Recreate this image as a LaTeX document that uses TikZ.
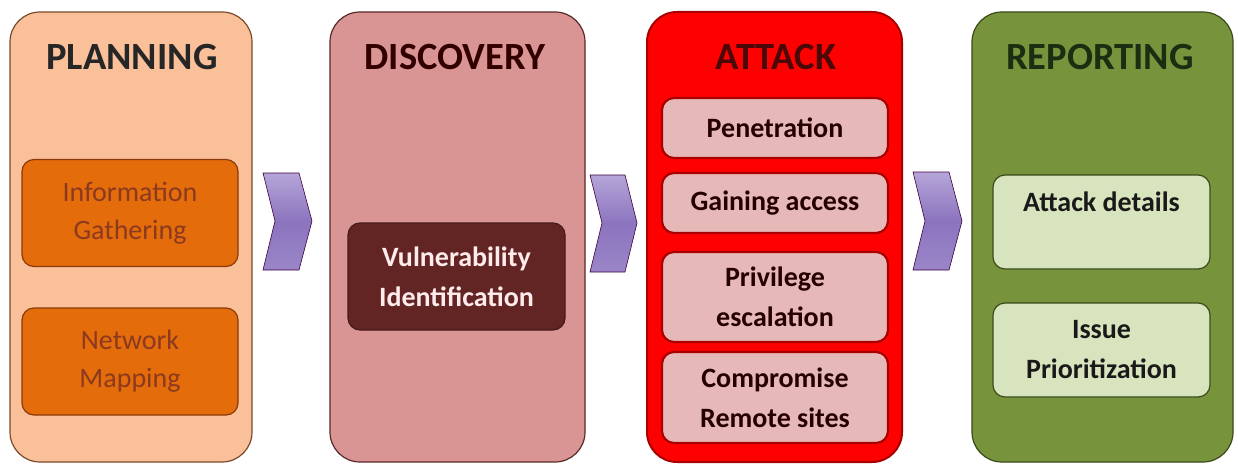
\documentclass[tikz,border=0pt]{standalone}
\usepackage{fontspec}
\setmainfont{Carlito}
\begin{document}
\begin{tikzpicture}[x=1pt,y=-1pt,
  panel/.style={rounded corners=30pt, line width=1.2pt, minimum width=#1, minimum height=450pt, inner sep=0pt},
  ptitle/.style={font=\bfseries\fontsize{38.5}{42}\selectfont, inner sep=0pt},
  subbox/.style={rounded corners=12pt, line width=1.2pt, align=center, inner sep=0pt, font=\fontsize{28}{38}\selectfont},
  chev/.style={draw=violet!50!black, line width=0.6pt, top color=chevtop, bottom color=chevbot, middle color=chevmid}
]
\definecolor{pl}{HTML}{FAC09A}
\definecolor{plb}{HTML}{7A4A2A}
\definecolor{plsub}{HTML}{E46C0A}
\definecolor{plsubb}{HTML}{8A3A0A}
\definecolor{pltxt}{HTML}{8B3A20}
\definecolor{di}{HTML}{D99594}
\definecolor{dib}{HTML}{5A2A2A}
\definecolor{disub}{HTML}{632523}
\definecolor{at}{HTML}{FF0000}
\definecolor{atb}{HTML}{A80000}
\definecolor{atsub}{HTML}{E6B9B8}
\definecolor{attit}{HTML}{4A0808}
\definecolor{re}{HTML}{77933C}
\definecolor{reb}{HTML}{3A4A1A}
\definecolor{resub}{HTML}{D7E4BD}
\definecolor{retit}{HTML}{1A2E12}
\definecolor{chevtop}{HTML}{B5A5D8}
\definecolor{chevmid}{HTML}{8C74BE}
\definecolor{chevbot}{HTML}{9A86C8}
\useasboundingbox (0,0) rectangle (1238,468);
\fill[white] (0,0) rectangle (1238,468);
% panels
\node[panel=242pt, fill=pl, draw=plb] (p1) at (131,237) {};
\node[panel=255pt, fill=di, draw=dib] (p2) at (457.5,237) {};
\node[panel=255pt, fill=at, draw=atb, line width=2pt] (p3) at (774.5,237) {};
\node[panel=261pt, fill=re, draw=reb] (p4) at (1102.5,237) {};
% titles
\node[ptitle, text=black!85] (t1) at (132,57) {PLANNING};
\node[ptitle, text=black!80!red] (t2) at (455,57) {DISCOVERY};
\node[ptitle, text=attit] (t3) at (776,57) {ATTACK};
\node[ptitle, text=retit] (t4) at (1100,57) {REPORTING};
% planning
\node[subbox, fill=plsub, draw=plsubb, text=pltxt, minimum width=216pt, minimum height=107pt] (s11) at (130,213) {Information\\Gathering};
\node[subbox, fill=plsub, draw=plsubb, text=pltxt, minimum width=216pt, minimum height=107pt] (s12) at (130,361.5) {Network\\Mapping};
% discovery
\node[subbox, fill=disub, draw=disub!70!black, text=white!92!red, font=\bfseries\fontsize{28}{40}\selectfont, minimum width=217pt, minimum height=107pt] (s21) at (456.5,276.5) {Vulnerability\\Identification};
% attack
\tikzset{asub/.style={subbox, fill=atsub, draw=atb, line width=2.2pt, text=black!85!red, font=\bfseries\fontsize{28}{40}\selectfont, minimum width=226pt}}
\node[asub, minimum height=60pt] (s31) at (775,128) {Penetration};
\node[asub, minimum height=60pt] (s32) at (775,203) {Gaining access};
\node[asub, minimum height=90pt] (s33) at (775,297) {Privilege\\escalation};
\node[asub, minimum height=91pt] (s34) at (775,397.5) {Compromise\\Remote sites};
% reporting
\tikzset{rsub/.style={subbox, fill=resub, draw=reb, text=black!90, font=\bfseries\fontsize{28}{40}\selectfont, minimum width=217pt, minimum height=94pt}}
\node[rsub] (s41) at (1101.5,222) {Attack details\\\mbox{}};
\node[rsub] (s42) at (1101.5,350) {Issue\\Prioritization};
% chevrons
\path[chev] (263,173) -- (299,173) -- (312,221) -- (299,270) -- (263,270) -- (275,221) -- cycle;
\path[chev] (590,175) -- (625,175) -- (637,223) -- (625,272) -- (590,272) -- (602,223) -- cycle;
\path[chev] (913,172) -- (949,172) -- (962,221) -- (949,270) -- (913,270) -- (925,221) -- cycle;
\end{tikzpicture}
\end{document}
